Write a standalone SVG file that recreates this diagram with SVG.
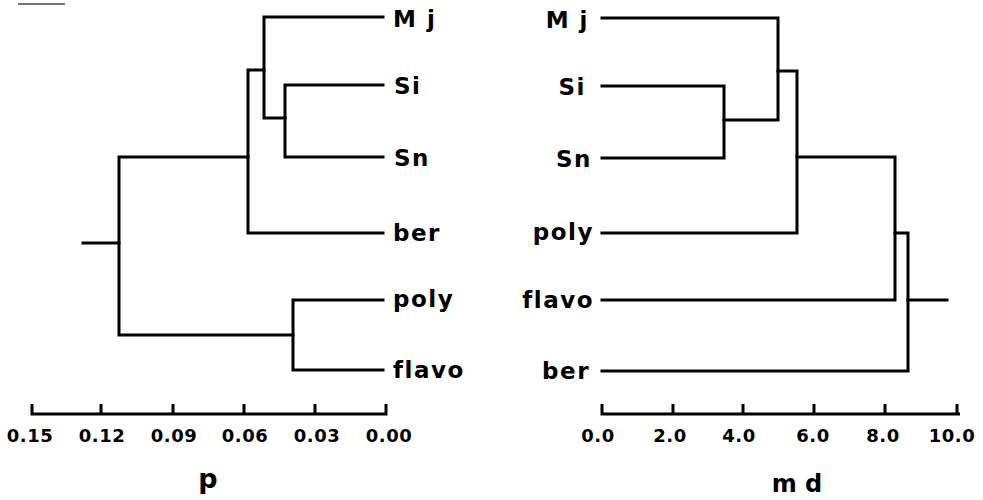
<svg xmlns="http://www.w3.org/2000/svg" width="983" height="500" viewBox="0 0 983 500">
<style>
.br{fill:none;stroke:#000;stroke-width:3;stroke-linecap:square;stroke-linejoin:miter}
.ax{fill:none;stroke:#000;stroke-width:3}
.lb{font-family:"DejaVu Sans",sans-serif;font-weight:bold;font-size:23px;letter-spacing:1.5px;fill:#000}
.tk{font-family:"DejaVu Sans",sans-serif;font-weight:bold;font-size:18px;letter-spacing:0.5px;fill:#000;text-anchor:middle}
.tt{font-family:"DejaVu Sans",sans-serif;font-weight:bold;font-size:27px;fill:#000;text-anchor:middle}
</style>
<rect width="983" height="500" fill="#fff"/>
<line x1="18" y1="4" x2="65" y2="4" stroke="#444" stroke-width="1.5"/>
<g id="connectors">
<path class="br" d="M383 17H264V118H285"/>
<path class="br" d="M383 85H285V157H383"/>
<path class="br" d="M264 70H248V233H383"/>
<path class="br" d="M248 157H119V335H293"/>
<path class="br" d="M383 300H293V370H383"/>
<path class="br" d="M83 243H119"/>
<path class="br" d="M602 18H778V120H724"/>
<path class="br" d="M602 86H724V158H602"/>
<path class="br" d="M778 71H797V233H602"/>
<path class="br" d="M797 157H895V300H602"/>
<path class="br" d="M895 233H908V371H602"/>
<path class="br" d="M908 300H947"/>
</g>
<g id="left-axis">
<path class="ax" d="M32 404V414H386V404M101 404V414M173 404V414M244 404V414M315 404V414"/>
<text class="tk" x="30" y="442">0.15</text>
<text class="tk" x="102" y="442">0.12</text>
<text class="tk" x="174" y="442">0.09</text>
<text class="tk" x="245" y="442">0.06</text>
<text class="tk" x="317" y="442">0.03</text>
<text class="tk" x="389" y="442">0.00</text>
<text class="tt" x="208" y="488">p</text>
</g>
<g id="right-axis">
<path class="ax" d="M602 404V414H960M957 404V414M673 404V414M743 404V414M814 404V414M885 404V414"/>
<text class="tk" x="598" y="442">0.0</text>
<text class="tk" x="670" y="442">2.0</text>
<text class="tk" x="739" y="442">4.0</text>
<text class="tk" x="813" y="442">6.0</text>
<text class="tk" x="883" y="442">8.0</text>
<text class="tk" x="952" y="442">10.0</text>
<text class="tt" x="797" y="492" style="font-size:24px">m d</text>
</g>
<g id="left-Mj"><text class="lb" x="393" y="27">M j</text></g>
<g id="left-Si"><text class="lb" x="394" y="94">Si</text></g>
<g id="left-Sn"><text class="lb" x="394" y="166">Sn</text></g>
<g id="left-ber"><text class="lb" x="393" y="241">ber</text></g>
<g id="left-poly"><text class="lb" x="393" y="307">poly</text></g>
<g id="left-flavo"><text class="lb" x="393" y="378">flavo</text></g>
<g id="right-Mj"><text class="lb" x="589" y="28" text-anchor="end">M j</text></g>
<g id="right-Si"><text class="lb" x="586" y="95" text-anchor="end">Si</text></g>
<g id="right-Sn"><text class="lb" x="592" y="167" text-anchor="end">Sn</text></g>
<g id="right-poly"><text class="lb" x="594" y="240" text-anchor="end">poly</text></g>
<g id="right-flavo"><text class="lb" x="594" y="308" text-anchor="end">flavo</text></g>
<g id="right-ber"><text class="lb" x="590" y="379" text-anchor="end">ber</text></g>
</svg>
